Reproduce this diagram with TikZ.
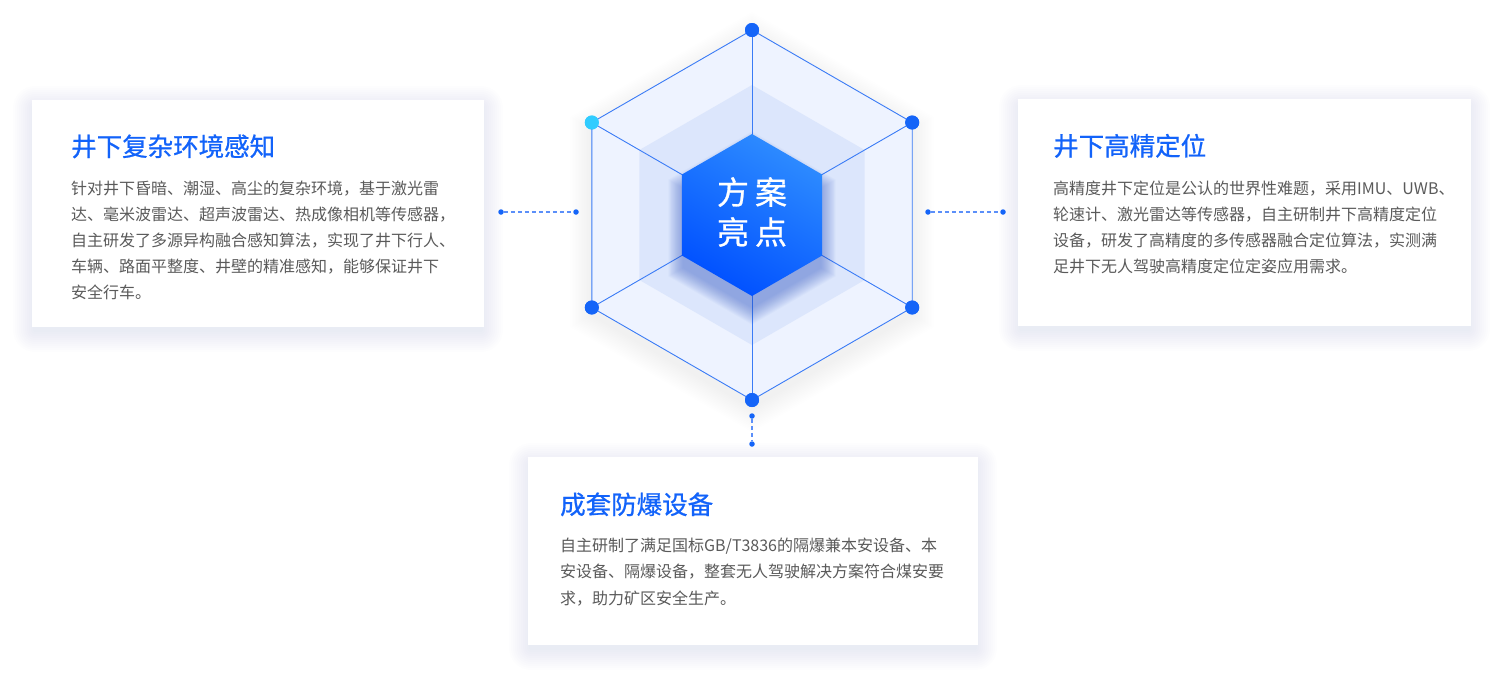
\documentclass[tikz,border=0pt]{standalone}
\usepackage{fontspec}
\setmainfont{Noto Sans CJK SC}
\newfontfamily\cjkmed[FakeBold=0.8]{Noto Sans CJK SC}
\usetikzlibrary{calc}
\definecolor{hexline}{HTML}{3A7BF6}
\definecolor{outerfill}{HTML}{EEF3FF}
\definecolor{midfill}{HTML}{DCE6FC}
\definecolor{dotblue}{HTML}{1565F8}
\definecolor{dotcyan}{HTML}{30CCFF}
\definecolor{titleblue}{HTML}{1263FA}
\definecolor{bodygray}{HTML}{5A5A5A}
\definecolor{connblue}{HTML}{5B8FF9}
\definecolor{shadowc}{HTML}{5070E0}
\definecolor{glowc}{HTML}{2F55C8}
\definecolor{innerA}{HTML}{2E8CFF}
\definecolor{innerB}{HTML}{0050FF}
\tikzset{
  box/.style={draw=none, fill=white, rectangle, inner sep=0pt, anchor=north west},
  titletext/.style={text=titleblue, font=\cjkmed\fontsize{25.5}{30}\selectfont, inner sep=0pt, anchor=base west},
  bodytext/.style={text=bodygray, font=\fontsize{16}{26}\selectfont, align=left, inner sep=0pt, anchor=north west},
  hdot/.style={circle, fill=dotblue, minimum size=14pt, inner sep=0pt},
  cdot/.style={circle, fill=dotblue, minimum size=5.5pt, inner sep=0pt},
  conn/.style={connblue, line width=1.1pt, dash pattern=on 4pt off 3pt},
  hexedge/.style={hexline, line width=0.9pt}
}
\begin{document}
\begin{tikzpicture}[x=1pt,y=-1pt]
\useasboundingbox (0,0) rectangle (1499,686);
\fill[white] (0,0) rectangle (1499,686);

% soft shadows of the boxes
\foreach \a/\b/\c/\d in {32/100/484/327, 1018/99/1471/326, 528/457/978/645}{
  \foreach \i in {2,4,...,22}{
    \fill[shadowc, opacity=0.008, rounded corners=\i pt] (\a-\i+3,\b-\i+8) rectangle (\c+\i-3,\d+\i+3);
  }
}

% soft halo around outer hexagon
\foreach \i in {1,...,14}{
  \pgfmathsetmacro{\r}{185+\i*1.8}
  \fill[shadowc, opacity=0.004] ($(752,222)+(90:\r)$) -- ($(752,222)+(30:\r)$) -- ($(752,222)+(-30:\r)$) -- ($(752,222)+(-90:\r)$) -- ($(752,222)+(-150:\r)$) -- ($(752,222)+(150:\r)$) -- cycle;
}

% outer hexagon
\fill[outerfill] (752,30) -- (912.2,122.5) -- (912.2,307.5) -- (752,400) -- (591.8,307.5) -- (591.8,122.5) -- cycle;
% middle hexagon
\fill[midfill] (752,85) -- (864.6,150) -- (864.6,280) -- (752,345) -- (639.4,280) -- (639.4,150) -- cycle;

% dots at outer vertices
\node[hdot] (v1) at (752,30) {};
\node[hdot] (v2) at (912.2,122.5) {};
\node[hdot] (v3) at (912.2,307.5) {};
\node[hdot] (v4) at (752,400) {};
\node[hdot] (v5) at (591.8,307.5) {};
\node[hdot, fill=dotcyan] (v6) at (591.8,122.5) {};

% outer hexagon outline and spokes
\draw[hexedge] (v1.center) -- (v2.center) -- (v3.center) -- (v4.center) -- (v5.center) -- (v6.center) -- cycle;
\draw[hexedge] (v1.center) -- (752,215);
\draw[hexedge] (v2.center) -- (752,215);
\draw[hexedge] (v3.center) -- (752,215);
\draw[hexedge] (v4.center) -- (752,215);
\draw[hexedge] (v5.center) -- (752,215);
\draw[hexedge] (v6.center) -- (752,215);

% glow under inner hexagon
\foreach \i in {1,...,16}{
  \pgfmathsetmacro{\r}{79+\i*1.1}
  \fill[glowc, opacity=0.03] ($(752,228)+(90:\r)$) -- ($(752,228)+(30:\r)$) -- ($(752,228)+(-30:\r)$) -- ($(752,228)+(-90:\r)$) -- ($(752,228)+(-150:\r)$) -- ($(752,228)+(150:\r)$) -- cycle;
}

% inner hexagon
\shade[top color=innerA, bottom color=innerB, shading angle=-30] (752,134) -- (822.1,174.5) -- (822.1,255.5) -- (752,296) -- (681.9,255.5) -- (681.9,174.5) -- cycle;

% redraw dots on top
\node[hdot] at (v1) {};
\node[hdot] at (v2) {};
\node[hdot] at (v3) {};
\node[hdot] at (v4) {};
\node[hdot] at (v5) {};
\node[hdot, fill=dotcyan] at (v6) {};

\node[text=white, font=\cjkmed\fontsize{32}{40}\selectfont, align=center, inner sep=0pt] (ctr) at (752,212) {方\hspace{6pt}案\\亮\hspace{6pt}点};

% connectors
\node[cdot] (cl1) at (501,212) {};
\node[cdot] (cl2) at (576,212) {};
\node[cdot] (cr1) at (928,212) {};
\node[cdot] (cr2) at (1003,212) {};
\node[cdot] (cb1) at (752,416) {};
\node[cdot] (cb2) at (752,444) {};
\draw[conn] (cl1) -- (cl2);
\draw[conn] (cr1) -- (cr2);
\draw[conn] (cb1) -- (cb2);

% boxes
\node[box, minimum width=452pt, minimum height=227pt] (bl) at (32,100) {};
\node[box, minimum width=453pt, minimum height=227pt] (br) at (1018,99) {};
\node[box, minimum width=450pt, minimum height=188pt] (bb) at (528,457) {};

% texts
\node[titletext] (tl) at (71,156) {井下复杂环境感知};
\node[bodytext] (xl) at (71,175.8) {\strut 针对井下昏暗、潮湿、高尘的复杂环境，基于激光雷\\
达、毫米波雷达、超声波雷达、热成像相机等传感器，\\
自主研发了多源异构融合感知算法，实现了井下行人、\\
车辆、路面平整度、井壁的精准感知，能够保证井下\\
安全行车。};

\node[titletext] (tr) at (1053,155.5) {井下高精定位};
\node[bodytext] (xr) at (1053,175.8) {\strut 高精度井下定位是公认的世界性难题，采用IMU、UWB、\\
轮速计、激光雷达等传感器，自主研制井下高精度定位\\
设备，研发了高精度的多传感器融合定位算法，实测满\\
足井下无人驾驶高精度定位定姿应用需求。};

\node[titletext] (tb) at (560,514) {成套防爆设备};
\node[bodytext, font=\fontsize{16}{26.5}\selectfont] (xb) at (560,532.5) {\strut 自主研制了满足国标GB/T3836的隔爆兼本安设备、本\\
安设备、隔爆设备，整套无人驾驶解决方案符合煤安要\\
求，助力矿区安全生产。};
\end{tikzpicture}
\end{document}
